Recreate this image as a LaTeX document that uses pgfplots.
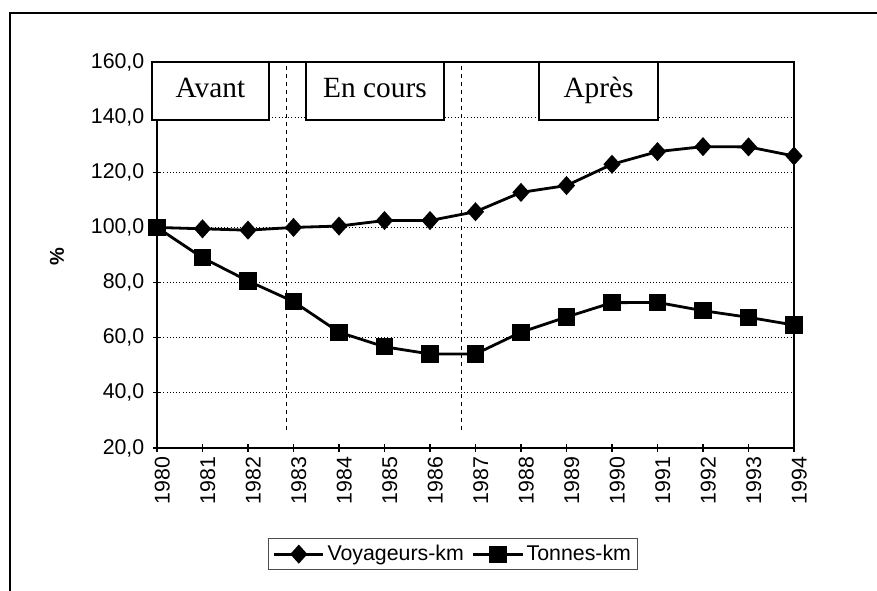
\documentclass[border=0pt]{standalone}
\usepackage{fontspec}
\setmainfont{Liberation Sans}
\newfontfamily\seriffont{Liberation Serif}
\usepackage{pgfplots}
\pgfplotsset{compat=1.18}
\begin{document}
\begin{tikzpicture}
\useasboundingbox (0,0) rectangle (657.75pt,-443.25pt);
\draw[line width=1.1pt] (7.5pt,-443.25pt) -- (7.5pt,-9.75pt) -- (657.75pt,-9.75pt);
\begin{axis}[
  at={(117.75pt,-46.5pt)}, anchor=north west,
  scale only axis, width=477.75pt, height=289.5pt,
  xmin=1980, xmax=1994, ymin=20, ymax=160,
  xtick={1980,1981,...,1994},
  ytick={20,40,...,160},
  xticklabel style={rotate=90, anchor=east, yshift=-4pt, /pgf/number format/1000 sep={}},
  yticklabel style={xshift=-3pt, /pgf/number format/.cd, fixed, fixed zerofill, precision=1, use comma, 1000 sep={}},
  /pgf/number format/assume math mode=true,
  tick label style={font=\fontsize{16}{18}\selectfont},
  xtick pos=bottom, ytick pos=left,
  tick align=center, major tick length=6pt,
  axis line style={line width=1.4pt},
  tick style={line width=0.8pt, black},
  ymajorgrids, grid style={dotted, line width=0.7pt, black},
  ylabel={\textbf{\%}},
  ylabel style={at={(axis description cs:-0.157,0.495)}, anchor=center, font=\fontsize{15}{17}\selectfont},
  clip=false,
  legend columns=2,
  legend style={at={(axis description cs:0.465,-0.275)}, anchor=center, draw=black!70, line width=0.6pt, font=\fontsize{16}{18}\selectfont, /tikz/every even column/.append style={column sep=4pt}, inner sep=3pt},
  legend image code/.code={\draw[mark repeat=2, mark phase=2, #1] plot coordinates {(0cm,0cm) (0.65cm,0cm) (1.3cm,0cm)};},
]
\addplot[black, dashed, line width=0.9pt, forget plot] coordinates {(1982.85,26.5) (1982.85,160)};
\addplot[black, dashed, line width=0.9pt, forget plot] coordinates {(1986.7,26.5) (1986.7,160)};
\addplot[black, line width=2.1pt, mark=diamond*, mark size=5.6pt, mark options={xscale=1.2, solid}] coordinates {
(1980,100) (1981,99.5) (1982,99) (1983,100) (1984,100.5) (1985,102.5) (1986,102.5) (1987,105.7) (1988,112.7) (1989,115.2) (1990,122.9) (1991,127.5) (1992,129.3) (1993,129.2) (1994,125.9)};
\addlegendentry{Voyageurs-km}
\addplot[black, line width=2.1pt, mark=square*, mark size=5.4pt, mark options={solid}] coordinates {
(1980,100) (1981,89) (1982,80.6) (1983,73.1) (1984,62) (1985,56.7) (1986,54.1) (1987,54.1) (1988,62) (1989,67.5) (1990,72.7) (1991,72.8) (1992,69.8) (1993,67.4) (1994,64.6)};
\addlegendentry{Tonnes-km}
\draw[fill=white, line width=1.3pt] (axis cs:1979.89,139) rectangle (axis cs:1982.46,160) node[midway, font=\seriffont\fontsize{22}{24}\selectfont]{\strut Avant};
\draw[fill=white, line width=1.3pt] (axis cs:1983.27,139) rectangle (axis cs:1986.31,160) node[midway, font=\seriffont\fontsize{22}{24}\selectfont]{\strut En cours};
\draw[fill=white, line width=1.3pt] (axis cs:1988.40,139) rectangle (axis cs:1991.01,160) node[midway, font=\seriffont\fontsize{22}{24}\selectfont]{\strut Après};
\end{axis}
\end{tikzpicture}
\end{document}
